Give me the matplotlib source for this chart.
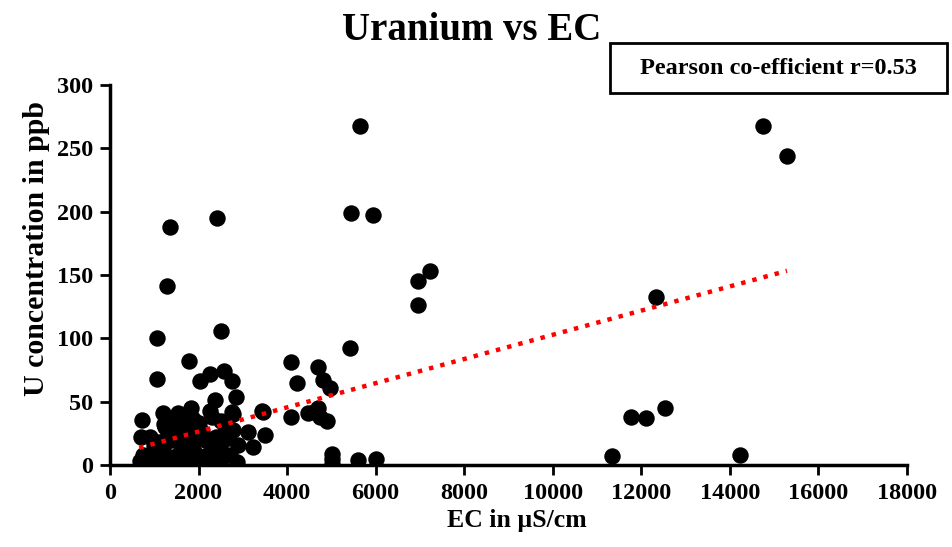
import numpy as np
import matplotlib
matplotlib.use("Agg")
import matplotlib.pyplot as plt
from matplotlib.patches import Rectangle

plt.rcParams['font.family'] = ['Liberation Serif', 'DejaVu Serif']
plt.rcParams['font.weight'] = 'bold'

# EC (µS/cm) and U (ppb) values
ec = [
    # low row
    680, 750, 820, 900, 980, 1050, 1120, 1200, 1280, 1350, 1420, 1500, 1580, 1650,
    1720, 1800, 1880, 1950, 2050, 2150, 2250, 2350, 2450, 2550, 2860, 2700,
    # mid band
    700, 900, 1000, 1100, 1200, 1300, 1400, 1500, 1600, 1700, 1800, 1900, 2000,
    2070, 2150, 2300, 2400, 2500, 2600, 2670, 2900, 3120, 3235, 3500, 2780, 1250,
    # upper band
    730, 1200, 1220, 1540, 1620, 1840, 1880, 2000, 2260, 2300, 2380, 2500, 2750,
    2780, 2840, 3440, 3460, 1700, 1400,
    # higher cluster
    1068, 2500, 1068, 1783, 2032, 2257, 2573, 2762,
    # middle region
    4080, 4230, 4700, 4080, 4480, 4700, 4740, 4890, 4815, 4966, 5020, 5020, 5020,
    5605, 6005, 5420, 4600,
    # high outliers
    1348, 1280, 2422, 5650, 5433, 5944, 6960, 6960, 7220, 12325, 14747, 15289,
    11340, 11776, 12106, 12528, 14221,
]
u = [
    3, 8, 2, 5, 1, 6, 3, 9, 2, 5, 1, 7, 3, 10,
    2, 6, 4, 9, 3, 7, 9, 4, 12, 6, 2.6, 8,
    22, 22, 15, 18, 13, 25, 20, 28, 16, 24, 30, 18, 26,
    26, 20, 14, 22, 17, 31, 21, 16, 26, 14, 24, 28, 30,
    35.5, 41, 32, 41, 38, 45, 36, 33, 43, 38, 51, 35, 42,
    40, 54, 43, 42, 35, 33,
    100, 106, 68, 82, 66, 72, 74, 66,
    81.5, 65, 77.5, 37.6, 41, 45, 38, 35, 67, 60.5, 9, 5, 1,
    4, 5, 92.5, 42,
    188, 141, 195, 268, 199, 197, 145, 126, 153, 133, 268, 244,
    7.5, 38, 37, 45, 8,
]

# linear trend line (U = slope * EC + intercept)
trend_slope = 0.00955
trend_intercept = 7.3

x_ticks = [0, 2000, 4000, 6000, 8000, 10000, 12000, 14000, 16000, 18000]
y_ticks = [0, 50, 100, 150, 200, 250, 300]

ec = np.array(ec, dtype=float)
u = np.array(u, dtype=float)

W, H = 953, 547
fig = plt.figure(figsize=(W / 100, H / 100), dpi=100)
ax = fig.add_axes([110 / W, 1 - 465 / H, (907 - 110) / W, (465 - 85) / H])

ax.scatter(ec, u, s=140, color='black', zorder=3, linewidths=0)

xs = np.array([660.0, ec.max()])
ax.plot(xs, trend_slope * xs + trend_intercept, color='#FF0000',
        linestyle=(0, (1, 1.6)), linewidth=3.2, zorder=4)

ax.set_xlim(0, 18000)
ax.set_ylim(0, 300)
ax.set_xticks(x_ticks)
ax.set_yticks(y_ticks)
ax.tick_params(axis='both', direction='out', length=7, width=2, labelsize=17.5)
ax.tick_params(axis='y', pad=5)
ax.tick_params(axis='x', pad=6)
for lab in ax.get_xticklabels() + ax.get_yticklabels():
    lab.set_fontweight('bold')
for s in ['top', 'right']:
    ax.spines[s].set_visible(False)
for s in ['left', 'bottom']:
    ax.spines[s].set_linewidth(2.5)

fig.text(517 / W, 1 - 520 / H, 'EC in µS/cm', ha='center', va='center',
         fontsize=18.5, fontweight='bold')
fig.text(37 / W, 1 - 248 / H, 'U concentration in ppb', ha='center', va='center',
         rotation=90, fontsize=21.5, fontweight='bold')

fig.text(472 / W, 1 - 30 / H, 'Uranium vs EC', ha='center', va='center',
         fontsize=28, fontweight='bold')

fig.patches.append(Rectangle((610 / W, 1 - 93 / H), 337 / W, 50 / H,
                             transform=fig.transFigure, facecolor='white',
                             edgecolor='black', linewidth=2, zorder=5))
fig.text(778 / W, 1 - 68 / H, 'Pearson co-efficient r=0.53', ha='center', va='center',
         fontsize=17.5, fontweight='bold', zorder=6)

fig.savefig('out.png', dpi=100)
